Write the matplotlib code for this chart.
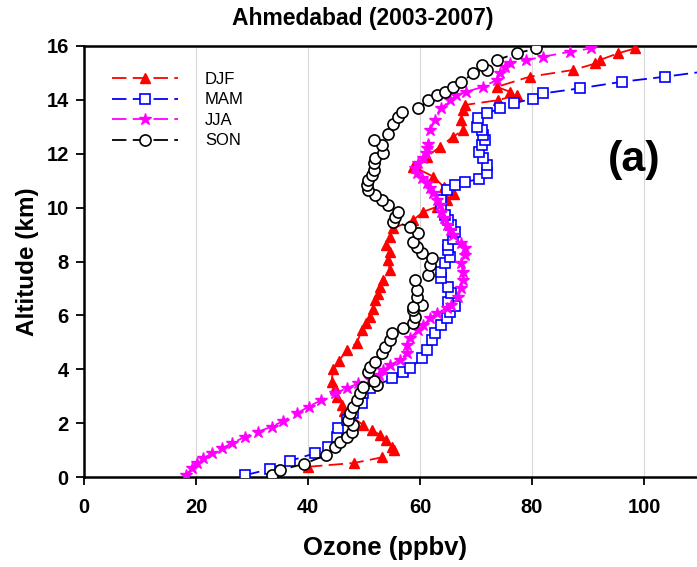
import matplotlib
matplotlib.use("Agg")
import matplotlib.pyplot as plt

plt.rcParams['font.family'] = ['Liberation Sans', 'DejaVu Sans']
plt.rcParams['font.weight'] = 'bold'

# seasonal mean ozone profiles (ozone ppbv, altitude km)
djf_o3 = [40.0, 48.2, 53.2, 55.3, 55.0, 54.0, 52.9, 51.4, 49.9, 48.0, 46.5, 46.0, 45.1, 44.8,
          44.2, 44.5, 45.5, 46.9, 48.7, 49.6, 50.4, 51.1, 51.6, 52.0, 52.5, 52.9, 53.4, 54.6,
          54.3, 54.6, 54.0, 54.6, 55.2, 58.8, 60.6, 63.0, 64.8, 66.0, 64.2, 62.4, 59.4, 58.8,
          61.2, 63.6, 65.9, 67.7, 67.4, 67.7, 68.0, 74.0, 77.3, 76.1, 73.7, 79.6, 87.4, 91.3,
          92.1, 95.4, 98.4]
djf_alt = [0.38, 0.52, 0.73, 1.0, 1.12, 1.37, 1.56, 1.74, 1.93, 2.2, 2.45, 2.67, 2.98, 3.3,
           3.54, 4.0, 4.3, 4.71, 4.96, 5.46, 5.7, 5.95, 6.25, 6.57, 6.8, 7.06, 7.31, 7.68,
           8.05, 8.36, 8.6, 8.92, 9.23, 9.54, 9.85, 10.03, 10.3, 10.5, 10.78, 11.15, 11.46, 11.52,
           11.89, 12.26, 12.63, 12.88, 13.25, 13.62, 13.81, 13.99, 14.18, 14.3, 14.48, 14.86, 15.11, 15.35,
           15.48, 15.73, 15.91]

mam_o3 = [28.8, 33.3, 36.8, 41.2, 43.6, 45.1, 45.4, 46.9, 48.1, 49.6, 49.9, 51.1, 55.0, 57.0,
          58.2, 60.3, 61.2, 62.1, 62.7, 63.8, 64.8, 65.4, 66.3, 65.0, 65.6, 65.0, 63.8, 63.8,
          64.5, 65.4, 65.0, 65.0, 65.9, 66.2, 65.6, 65.0, 64.5, 63.8, 63.8, 64.8, 66.2, 68.0,
          70.5, 71.9, 71.9, 71.3, 70.5, 71.0, 71.6, 71.2, 71.0, 70.1, 70.4, 71.9, 74.3, 76.7,
          80.2, 82.0, 88.6, 96.0, 103.8, 116.0]
mam_alt = [0.07, 0.3, 0.6, 0.88, 1.12, 1.5, 1.81, 2.12, 2.36, 2.73, 3.11, 3.29, 3.66, 3.91,
           4.03, 4.41, 4.71, 5.09, 5.33, 5.64, 5.89, 6.14, 6.35, 6.51, 6.82, 7.06, 7.37, 7.62,
           7.93, 8.18, 8.43, 8.6, 8.85, 9.1, 9.35, 9.54, 9.73, 10.03, 10.3, 10.65, 10.84, 10.96,
           11.05, 11.27, 11.58, 11.83, 12.05, 12.32, 12.51, 12.7, 12.88, 13.0, 13.31, 13.5, 13.68, 13.87,
           14.05, 14.24, 14.43, 14.67, 14.86, 15.2]

jja_o3 = [18.3, 19.2, 20.1, 21.3, 22.8, 24.6, 26.4, 28.8, 31.1, 33.5, 35.6, 38.0, 40.1, 42.4,
          44.8, 46.9, 49.0, 51.0, 52.6, 53.4, 54.6, 56.4, 57.6, 57.6, 58.2, 59.7, 60.6, 61.8,
          63.0, 64.8, 65.6, 66.8, 67.4, 67.7, 67.6, 67.4, 68.0, 68.0, 67.4, 65.9, 65.4, 64.8,
          64.2, 63.8, 63.6, 63.0, 62.4, 61.8, 61.2, 60.3, 59.4, 59.1, 59.7, 60.6, 61.0, 61.2,
          61.5, 61.8, 62.7, 63.8, 65.4, 66.5, 68.3, 71.3, 73.7, 74.3, 75.2, 76.1, 79.0, 82.0,
          86.8, 90.6]
jja_alt = [0.07, 0.32, 0.51, 0.69, 0.88, 1.06, 1.25, 1.5, 1.68, 1.87, 2.08, 2.36, 2.61, 2.86,
           3.11, 3.29, 3.48, 3.64, 3.79, 3.97, 4.16, 4.34, 4.59, 4.9, 5.15, 5.46, 5.64, 5.89,
           6.1, 6.26, 6.4, 6.69, 7.0, 7.31, 7.62, 7.93, 8.24, 8.5, 8.67, 8.98, 9.17, 9.35,
           9.6, 9.85, 10.1, 10.28, 10.53, 10.72, 10.9, 11.09, 11.27, 11.46, 11.64, 11.83, 12.02, 12.2,
           12.38, 12.88, 13.25, 13.68, 13.99, 14.18, 14.3, 14.49, 14.74, 14.98, 15.23, 15.35, 15.48, 15.6,
           15.79, 15.91]

son_o3 = [33.5, 35.0, 39.2, 43.3, 44.8, 45.7, 46.9, 47.8, 48.1, 47.2, 47.5, 48.1, 48.7, 49.3,
          49.9, 52.3, 51.7, 50.8, 51.1, 52.0, 53.2, 53.8, 54.6, 55.0, 57.0, 58.8, 59.1, 58.8,
          60.3, 58.8, 59.4, 59.4, 59.1, 61.5, 61.8, 62.1, 60.3, 59.4, 58.8, 59.7, 58.2, 55.2,
          55.5, 56.1, 54.3, 53.2, 52.0, 50.8, 50.5, 50.8, 51.4, 51.7, 51.7, 52.0, 53.4, 53.2,
          51.7, 54.3, 55.2, 56.1, 56.7, 59.7, 61.5, 63.0, 64.5, 65.9, 67.4, 69.5, 71.9, 71.0,
          73.7, 77.3, 80.8]
son_alt = [0.07, 0.26, 0.48, 0.82, 1.12, 1.31, 1.5, 1.68, 1.93, 2.12, 2.36, 2.61, 2.86, 3.11,
           3.35, 3.4, 3.55, 3.91, 4.09, 4.28, 4.59, 4.84, 5.09, 5.33, 5.52, 5.71, 5.95, 6.2,
           6.4, 6.32, 6.69, 6.94, 7.31, 7.5, 7.87, 8.12, 8.3, 8.55, 8.73, 9.04, 9.29, 9.48,
           9.66, 9.85, 10.1, 10.28, 10.47, 10.65, 10.84, 11.02, 11.21, 11.4, 11.64, 11.83, 12.02, 12.32,
           12.5, 12.75, 13.12, 13.37, 13.56, 13.68, 13.99, 14.18, 14.3, 14.49, 14.67, 14.98, 15.11, 15.3,
           15.48, 15.73, 15.91]

fig = plt.figure(figsize=(6.97, 5.67), dpi=100)
ax = fig.add_axes([0.1205, 0.1587, 0.8838, 0.7602])

dash = (8, 3.5)
ax.plot(djf_o3, djf_alt, color='#ff0000', lw=1.3, dashes=dash, marker='^', ms=7.5,
        mfc='#ff0000', mec='#ff0000', label='DJF', zorder=3)
ax.plot(mam_o3, mam_alt, color='#0000ff', lw=1.3, dashes=dash, marker='s', ms=6.5,
        mfc='white', mec='#0000ff', mew=1.2, label='MAM', zorder=3)
ax.plot(jja_o3, jja_alt, color='#ff00ff', lw=1.3, dashes=dash, marker='*', ms=9,
        mfc='#ff00ff', mec='#ff00ff', label='JJA', zorder=3)
ax.plot(son_o3, son_alt, color='black', lw=1.3, dashes=dash, marker='o', ms=8,
        mfc='white', mec='black', mew=1.2, label='SON', zorder=4)

ax.set_xlim(0, 110)
ax.set_ylim(0, 16)
ax.set_xticks([0, 20, 40, 60, 80, 100])
ax.set_yticks(range(0, 17, 2))
ax.grid(axis='x', color='#d8d8d8', lw=0.8)
ax.set_axisbelow(True)
ax.tick_params(direction='out', length=6, width=1.3, labelsize=14.5, pad=5)
ax.tick_params(axis='x', pad=9)
for s in ax.spines.values():
    s.set_linewidth(1.8)

ax.set_xlabel('Ozone (ppbv)', fontsize=18.5, fontweight='bold')
ax.xaxis.set_label_coords(0.489, -0.138)
ax.set_ylabel('Altitude (km)', fontsize=17.5, fontweight='bold', labelpad=5)
fig.text(0.52, 0.968, 'Ahmedabad (2003-2007)', fontsize=16.5, fontweight='bold',
         ha='center', va='center')

ax.text(98.2, 11.75, '(a)', fontsize=31, fontweight='bold', ha='center', va='center')

leg = ax.legend(loc='upper left', bbox_to_anchor=(0.045, 0.94), frameon=False,
                borderaxespad=0, borderpad=0,
                handlelength=4.0, handletextpad=1.6, labelspacing=0.33,
                prop={'size': 12, 'weight': 'normal'})

fig.savefig('out.png', dpi=100)
